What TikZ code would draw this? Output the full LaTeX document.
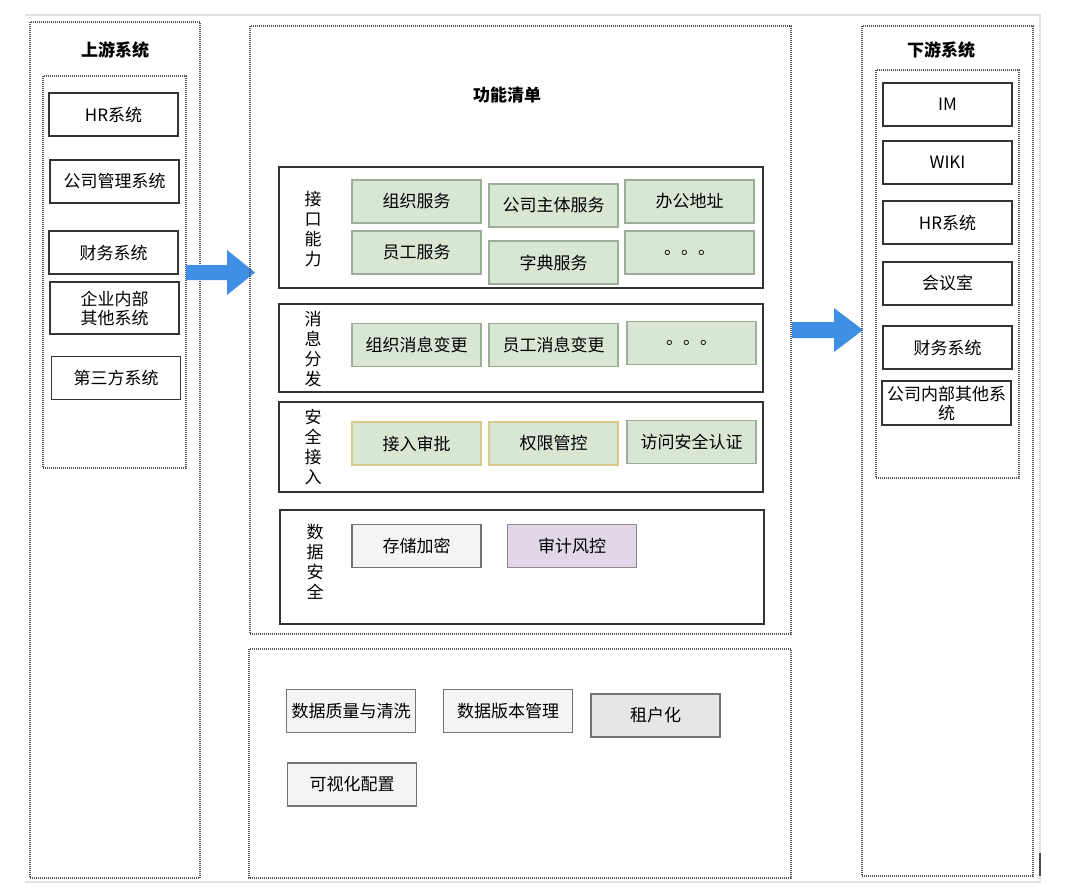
\documentclass[tikz,border=0pt]{standalone}
\usepackage{fontspec}
\setmainfont{Noto Sans CJK SC}
\usetikzlibrary{positioning}
\definecolor{bordc}{HTML}{333333}
\definecolor{greenf}{HTML}{D8E7D3}
\definecolor{greend}{HTML}{9CAE98}
\definecolor{yelld}{HTML}{D8C98F}
\definecolor{lightf}{HTML}{F4F4F6}
\definecolor{grayf}{HTML}{E6E6E6}
\definecolor{purf}{HTML}{E2D7E8}
\definecolor{arrowc}{HTML}{3F8FE5}
\definecolor{dashc}{HTML}{555555}
\definecolor{framec}{HTML}{E2E2E2}
\tikzset{
  dotbox/.style={draw=dashc, line width=1.1pt, dash pattern=on 1pt off 1pt},
  sbox/.style={draw=bordc, line width=1.4pt, fill=white, minimum width=129pt, minimum height=43pt, inner sep=1pt, font=\fontsize{17}{19}\selectfont, align=center},
  gbox/.style={sbox, draw=greend, fill=greenf, line width=1.2pt},
  ybox/.style={gbox, draw=yelld},
  lbox/.style={sbox, draw=black!55, fill=lightf, line width=1.2pt},
  secbox/.style={draw=bordc, line width=1.4pt},
  vlabel/.style={align=center, font=\fontsize{17}{20}\selectfont},
  title/.style={font=\fontsize{17}{19}\selectfont\bfseries},
  blockarrow/.style={fill=arrowc}
}
\begin{document}
\begin{tikzpicture}[x=1pt,y=-1pt]
\useasboundingbox (0,0) rectangle (1070,892);
% frame
\draw[framec, line width=1.5pt] (25,15) -- (1040,15) -- (1040,882) -- (25,882);
\draw[black!70, line width=1.5pt] (1040,853) -- (1040,876);

% upstream
\draw[dotbox] (30,22) rectangle (200,878);
\node[title] (uptitle) at (115,50) {上游系统};
\draw[dotbox] (43,76) rectangle (186,468);
\node[sbox] (u1) at (113.5,114.5) {HR系统};
\node[sbox] (u2) at (114.5,181.5) {公司管理系统};
\node[sbox] (u3) at (113.5,252.5) {财务系统};
\node[sbox, minimum height=52pt, font=\fontsize{17}{19}\selectfont] (u4) at (114.5,308) {企业内部\\其他系统};
\node[sbox] (u5) at (116,378) {第三方系统};

% arrow left
\fill[blockarrow] (186,265) -- (227,265) -- (227,250) -- (255,272.5) -- (227,295) -- (227,280) -- (186,280) -- cycle;

% center
\draw[dotbox] (250,26) rectangle (791,634);
\node[title] (ctitle) at (507,95) {功能清单};

% section 1
\draw[secbox] (279,167) rectangle (763,288);
\node[vlabel] (l1) at (313,229) {接\\口\\能\\力};
\node[gbox] (a1) at (416.5,201.5) {组织服务};
\node[gbox] (a2) at (553.5,205.5) {公司主体服务};
\node[gbox] (a3) at (689.5,201.5) {办公地址};
\node[gbox] (a4) at (416.5,252.5) {员工服务};
\node[gbox] (a5) at (553.5,262.5) {字典服务};
\node[gbox] (a6) at (689.5,252.5) {。。。};

% section 2
\draw[secbox] (279,304) rectangle (763,392);
\node[vlabel] (l2) at (313,349) {消\\息\\分\\发};
\node[gbox] (b1) at (416.5,345) {组织消息变更};
\node[gbox] (b2) at (553.5,345) {员工消息变更};
\node[gbox] (b3) at (691.5,343) {。。。};

% section 3
\draw[secbox] (279,402) rectangle (763,492);
\node[vlabel] (l3) at (313,447) {安\\全\\接\\入};
\node[ybox] (c1) at (416.5,443.5) {接入审批};
\node[ybox] (c2) at (553.5,443.5) {权限管控};
\node[gbox] (c3) at (691.5,442) {访问安全认证};

% section 4
\draw[secbox] (280,510) rectangle (764,624);
\node[vlabel] (l4) at (315,562) {数\\据\\安\\全};
\node[lbox, fill=lightf] (d1) at (416.5,546) {存储加密};
\node[lbox, fill=purf, draw=black!45] (d2) at (572,546) {审计风控};

% bottom
\draw[dotbox] (249,649) rectangle (791,878);
\node[lbox] (e1) at (351,711) {数据质量与清洗};
\node[lbox] (e2) at (508,711) {数据版本管理};
\node[lbox, fill=grayf] (e3) at (655.5,715.5) {租户化};
\node[lbox] (e4) at (352,784.5) {可视化配置};

% arrow right
\fill[blockarrow] (792,322) -- (834,322) -- (834,308) -- (863,330) -- (834,352) -- (834,338) -- (792,338) -- cycle;

% downstream
\draw[dotbox] (862,26) rectangle (1033,876);
\node[title] (dtitle) at (941,50) {下游系统};
\draw[dotbox] (876,70) rectangle (1019,478);
\node[sbox] (r1) at (947.5,104.5) {IM};
\node[sbox] (r2) at (947.5,162.5) {WIKI};
\node[sbox] (r3) at (947.5,222.5) {HR系统};
\node[sbox] (r4) at (947.5,283.5) {会议室};
\node[sbox] (r5) at (947.5,347.5) {财务系统};
\node[sbox, minimum height=44pt, font=\fontsize{17}{19}\selectfont] (r6) at (946.5,403) {公司内部其他系\\统};
\end{tikzpicture}
\end{document}
